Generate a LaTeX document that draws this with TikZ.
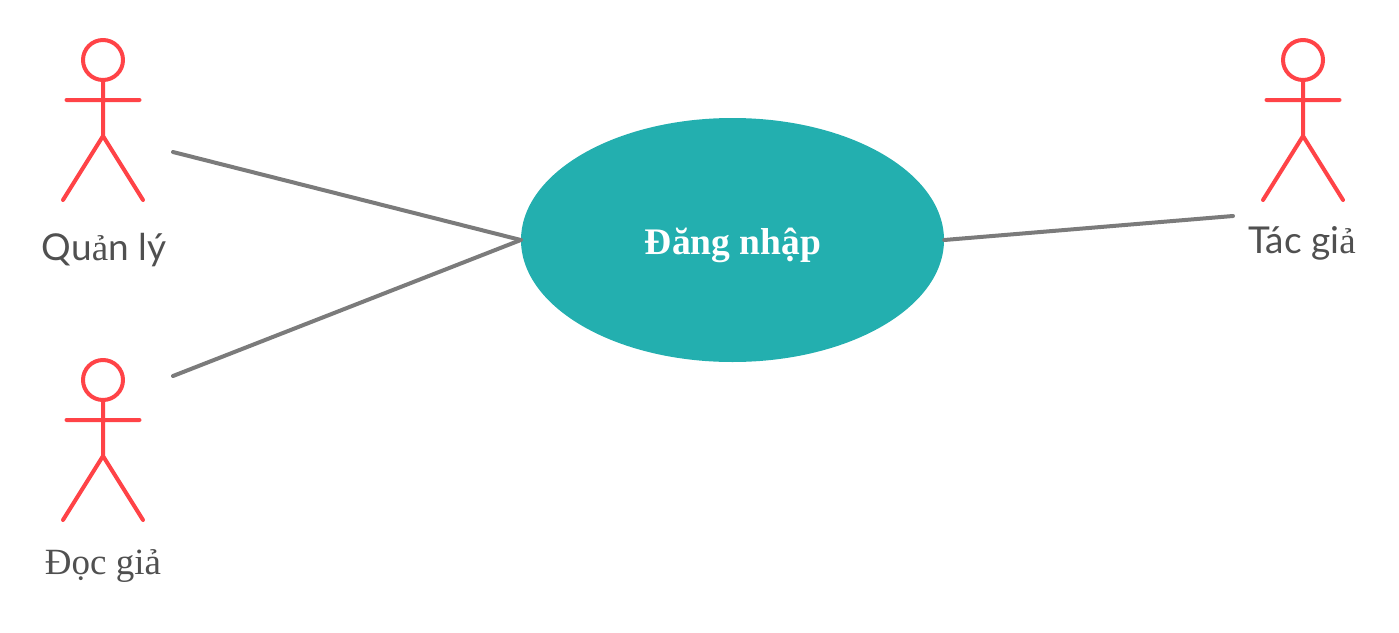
\documentclass[tikz,border=0pt]{standalone}
\usepackage{fontspec}
\setmainfont{Lato}
\newfontfamily\vnserif{Liberation Serif}
\usetikzlibrary{shapes.geometric}
\tikzset{
 x=1pt,y=-1pt,
 actorline/.style={draw=actorred,line width=4pt,line cap=round,line join=round},
 conn/.style={draw=connGray,line width=4pt,line cap=round},
 lbl/.style={text=lblgray,font=\fontsize{37}{42}\selectfont,inner sep=0pt,anchor=center},
}
\definecolor{actorred}{HTML}{FF4347}
\definecolor{connGray}{HTML}{7B7B7B}
\definecolor{lblgray}{HTML}{505050}
\definecolor{teal}{HTML}{23AFAF}
\newcommand{\actor}[2]{%
 \draw[actorline] (#1,#2) circle[radius=20];
 \draw[actorline] (#1,#2+20) -- (#1,#2+76) (#1-36.5,#2+40) -- (#1+36.5,#2+40) (#1-40,#2+140) -- (#1,#2+76) -- (#1+40,#2+140);
}
\begin{document}
\begin{tikzpicture}
\useasboundingbox (0,0) rectangle (1399,632);
\actor{103}{60}
\actor{103}{380}
\actor{1303}{60}
\node[ellipse,fill=teal,minimum width=423,minimum height=244,inner sep=0pt] (login) at (732.5,240) {};
\node[text=white,font=\fontsize{37.5}{42}\selectfont\vnserif\bfseries,inner sep=0pt] (t) at (733,245) {Đăng nhập};
\node[lbl] (q) at (104,250) {Qu\vnserif{}ả\normalfont{}n lý};
\node[lbl] (d) at (103,566) {\vnserif Đọc giả};
\node[lbl] (g) at (1302,243) {Tác gi\vnserif{}ả};
\coordinate (a1) at (173,152);
\coordinate (a2) at (173,376);
\coordinate (a3) at (1233,216);
\draw[conn] (a1) -- (login.west);
\draw[conn] (a2) -- (login.west);
\draw[conn] (a3) -- (login.east);
\end{tikzpicture}
\end{document}
